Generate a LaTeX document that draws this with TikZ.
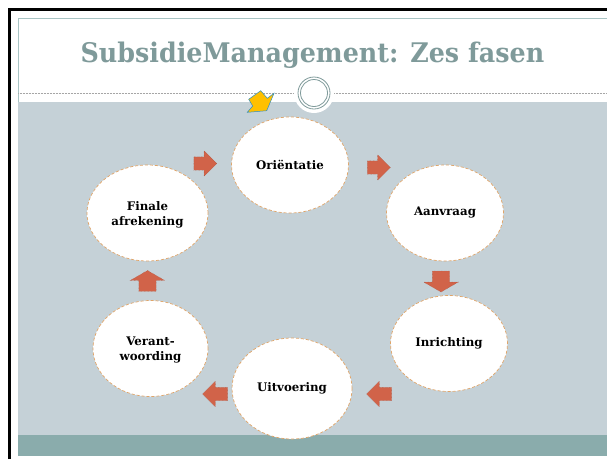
\documentclass[tikz,border=0pt]{standalone}
\usepackage{fontspec}
\setmainfont{DejaVu Serif}
\newfontfamily\titlefont[FakeStretch=0.94]{DejaVu Serif}
\usepackage{xcolor}
\usetikzlibrary{shapes.geometric,shapes.arrows}

\definecolor{panelgrey}{HTML}{C5D1D7}
\definecolor{bandteal}{HTML}{8AACAC}
\definecolor{titlegrey}{HTML}{7F9A9A}
\definecolor{framegrey}{HTML}{A8C4C4}
\definecolor{arrowred}{HTML}{D16349}
\definecolor{rimorange}{HTML}{E0A468}
\definecolor{stargold}{HTML}{FFC000}
\definecolor{starblue}{HTML}{2F8FC0}

\tikzset{
  phase/.style={ellipse, draw=rimorange, densely dashed, line width=0.7pt, fill=white,
    minimum width=117pt, minimum height=96pt, inner sep=0pt, align=center,
    font=\fontsize{11.8}{15}\selectfont\bfseries},
  sidearrow/.style={single arrow, fill=arrowred, draw=arrowred!80!black, densely dotted, line width=0.4pt,
    minimum height=23pt, minimum width=25pt, single arrow head extend=6pt,
    inner xsep=0pt, inner ysep=6.5pt},
  flatarrow/.style={sidearrow, minimum height=21pt, minimum width=34pt, inner ysep=8.5pt,
    single arrow head extend=8.5pt, single arrow tip angle=120}
}

\begin{document}
\begin{tikzpicture}[x=1pt,y=-1pt]
\useasboundingbox (0,0) rectangle (607,459);
\fill[white] (0,0) rectangle (607,459);

% slide background
\fill[panelgrey] (18,102) rectangle (607,435);
\fill[bandteal] (18,435) rectangle (607,456);
\draw[framegrey, line width=1.1pt] (18.3,102) -- (18.3,18.7) -- (607,18.7);
\draw[black, line width=2.8pt] (9.7,459) -- (9.7,9.7) -- (607,9.7);

% title rule and ring
\draw[gray!70, densely dotted, line width=0.5pt] (18,93.5) -- (293,93.5);
\draw[gray!70, densely dotted, line width=0.5pt] (334,93.5) -- (607,93.5);
\fill[white] (314,93) circle (20);
\draw[titlegrey, line width=0.8pt] (314,93) circle (16);
\draw[titlegrey, line width=0.8pt] (314,93) circle (13.5);

\node[text=titlegrey, font=\fontsize{27}{30}\titlefont\bfseries] (title) at (312.5,55) {SubsidieManagement: Zes fasen};

% pointer shape
\draw[starblue, fill=stargold, line width=0.5pt] (247.3,112.3) -- (252.7,106) -- (248.7,99.3)
  -- (260.7,90.7) -- (267.3,98.3) -- (274,93.3) -- (266.7,110.7) -- cycle;

% phases
\node[phase] (orientatie) at (290,165) {Oriëntatie};
\node[phase] (aanvraag) at (445,213) {Aanvraag};
\node[phase] (inrichting) at (449,343.5) {Inrichting};
\node[phase, minimum width=120pt, minimum height=101pt] (uitvoering) at (292,388.5) {Uitvoering};
\node[phase, minimum width=115pt] (verantwoording) at (150.5,348.5) {\raisebox{0pt}[12.5pt]{Verant-}\\woording};
\node[phase, minimum width=121pt] (afrekening) at (147.5,213) {\raisebox{0pt}[13pt]{Finale}\\afrekening};

% arrows between the phases
\node[sidearrow] (a1) at (375.5,167.5) {};
\node[flatarrow, rotate=-90] (a2) at (441,279) {};
\node[sidearrow, rotate=180, minimum height=25pt] (a3) at (382.5,394) {};
\node[sidearrow, rotate=180, minimum height=25pt] (a4) at (218.5,394) {};
\node[flatarrow, rotate=90] (a5) at (147.5,283.5) {};
\node[sidearrow] (a6) at (202,163.5) {};
\end{tikzpicture}
\end{document}
